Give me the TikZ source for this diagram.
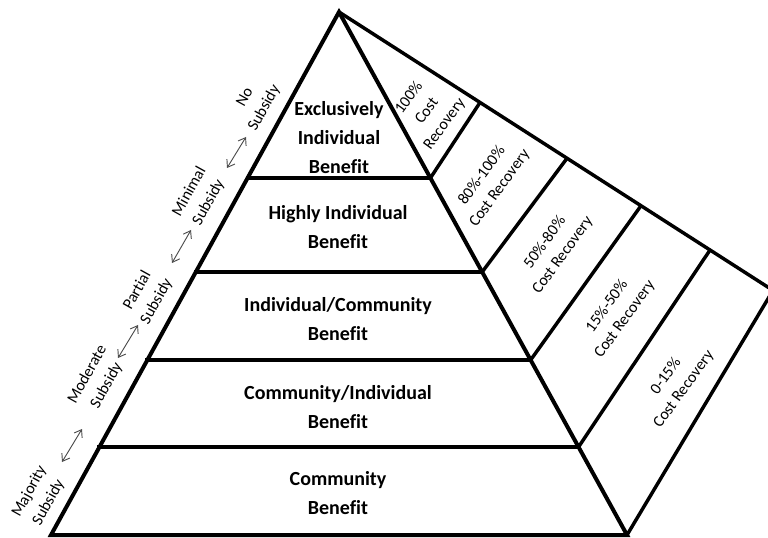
\documentclass[tikz,border=0pt]{standalone}
\usepackage{fontspec}
\setmainfont[Ligatures={NoCommon}]{Carlito}
\usetikzlibrary{arrows.meta,calc}
\begin{document}
\begin{tikzpicture}[x=0.75pt,y=-0.75pt,
  edge/.style={line width=3pt, line join=miter, line cap=rect},
  band/.style={line width=2.6pt, line join=miter},
  lvl/.style={font=\fontsize{15}{21.75}\selectfont\bfseries, align=center, inner sep=0pt},
  side/.style={font=\fontsize{12}{16.5}\selectfont, align=center, inner sep=0pt, rotate=61},
  cost/.style={font=\fontsize{12}{16.5}\selectfont, align=center, inner sep=0pt, rotate=54},
  swap/.style={{Straight Barb[length=5pt,width=7pt]}-{Straight Barb[length=5pt,width=7pt]}, line width=0.7pt, draw=black!70}
]
\clip (0,0) rectangle (768,538);
% pyramid
\coordinate (A) at (339,12);
\coordinate (BL) at (51,535);
\coordinate (BR) at (627,535);
\coordinate (L1l) at ($(A)!0.3174!(BL)$);
\coordinate (L1r) at ($(A)!0.3174!(BR)$);
\coordinate (L2l) at ($(A)!0.4971!(BL)$);
\coordinate (L2r) at ($(A)!0.4971!(BR)$);
\coordinate (L3l) at ($(A)!0.6654!(BL)$);
\coordinate (L3r) at ($(A)!0.6654!(BR)$);
\coordinate (L4l) at ($(A)!0.8317!(BL)$);
\coordinate (L4r) at ($(A)!0.8317!(BR)$);
% cost band
\coordinate (P1) at (480,102.5);
\coordinate (P2) at (567,158.3);
\coordinate (P3) at (641,205.7);
\coordinate (P4) at (710,250);
\coordinate (C) at (773,290.4);

\draw[band] (A) -- (C) -- (BR);
\draw[band] (L1r) -- (P1);
\draw[band] (L2r) -- (P2);
\draw[band] (L3r) -- (P3);
\draw[band] (L4r) -- (P4);

\draw[edge] (BL) -- (A) -- (BR) -- cycle;
\draw[edge] (L1l) -- (L1r);
\draw[edge] (L2l) -- (L2r);
\draw[edge] (L3l) -- (L3r);
\draw[edge] (L4l) -- (L4r);

% level labels
\node[lvl] (t1) at (339,138) {Exclusively\\Individual\\Benefit};
\node[lvl] (t2) at (338,227) {Highly Individual\\Benefit};
\node[lvl] (t3) at (338,319) {Individual/Community\\Benefit};
\node[lvl] (t4) at (338,407) {Community/Individual\\Benefit};
\node[lvl] (t5) at (338,493) {Community\\Benefit};

% subsidy labels
\node[side] (s1) at (255,103) {No\\Subsidy};
\node[side] (s2) at (199,197) {Minimal\\Subsidy};
\node[side] (s3) at (147,296) {Partial\\Subsidy};
\node[side] (s4) at (97,380) {Moderate\\Subsidy};
\node[side] (s5) at (39,497) {Majority\\Subsidy};

\coordinate (a1s) at (227,168); \coordinate (a1e) at (246,137);
\coordinate (a2s) at (172,263); \coordinate (a2e) at (191,230);
\coordinate (a3s) at (118,358); \coordinate (a3e) at (138,325);
\coordinate (a4s) at (62,462);  \coordinate (a4e) at (82,429);
\draw[swap] (a1s) -- (a1e);
\draw[swap] (a2s) -- (a2e);
\draw[swap] (a3s) -- (a3e);
\draw[swap] (a4s) -- (a4e);

% cost labels
\node[cost] (c1) at (427,111) {100\%\\Cost\\Recovery};
\node[cost] (c2) at (491,182) {80\%-100\%\\Cost Recovery};
\node[cost] (c3) at (554,249) {50\%-80\%\\Cost Recovery};
\node[cost] (c4) at (616,313) {15\%-50\%\\Cost Recovery};
\node[cost] (c5) at (675,383) {0-15\%\\Cost Recovery};
\end{tikzpicture}
\end{document}
